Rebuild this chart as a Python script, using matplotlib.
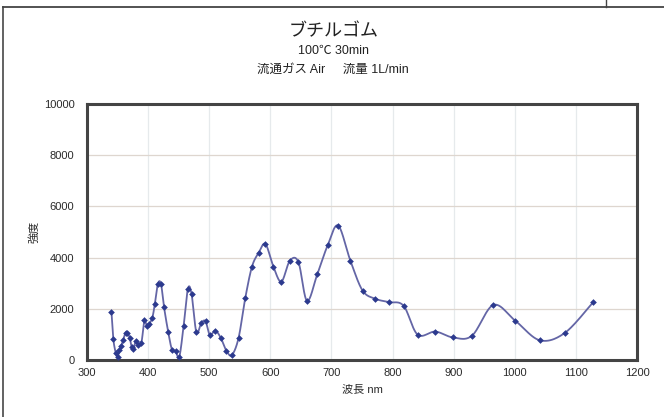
import numpy as np
import matplotlib
matplotlib.use("Agg")
import matplotlib.pyplot as plt
from matplotlib.lines import Line2D

plt.rcParams['font.family'] = ['Liberation Sans', 'Noto Sans CJK JP', 'DejaVu Sans']

# Emission spectrum (wavelength in nm, intensity in counts)
wavelength = [340, 343, 347, 350, 353, 356, 359, 363, 366, 370, 373, 376, 380, 384,
              389, 394, 398, 402, 407, 411, 416, 421, 426, 433, 439, 445, 451, 458,
              465, 471, 479, 487, 494, 501, 510, 519, 528, 537, 548, 559, 570, 581,
              592, 605, 618, 632, 646, 660, 677, 694, 711, 731, 751, 772, 794, 818,
              841, 870, 899, 930, 965, 1001, 1041, 1082, 1128]
intensity = [1880, 830, 280, 120, 380, 540, 770, 1060, 1070, 860, 510, 430, 750, 600,
             670, 1550, 1310, 1410, 1660, 2190, 2970, 2980, 2070, 1080, 410, 340, 120, 1310,
             2770, 2590, 1080, 1450, 1510, 980, 1150, 860, 370, 190, 860, 2420, 3650, 4190,
             4530, 3650, 3060, 3880, 3820, 2310, 3360, 4490, 5250, 3880, 2710, 2390, 2260, 2120,
             990, 1110, 880, 950, 2150, 1530, 770, 1060, 2250]

x_ticks = [300, 400, 500, 600, 700, 800, 900, 1000, 1100, 1200]
y_ticks = [0, 2000, 4000, 6000, 8000, 10000]

title = "ブチルゴム"
subtitle1 = "100℃ 30min"
subtitle2 = "流通ガス Air     流量 1L/min"
xlabel = "波長 nm"
ylabel = "強度"


def smooth_curve(x, y, xspan, yspan, n=24):
    """Bezier smoothing through every point (Catmull-Rom style control points)."""
    px = np.asarray(x, float) / xspan
    py = np.asarray(y, float) / yspan
    pts = np.column_stack([px, py])
    out = []
    m = len(pts)
    t = np.linspace(0, 1, n, endpoint=False)[:, None]
    for i in range(m - 1):
        p0 = pts[i - 1] if i > 0 else pts[i]
        p1 = pts[i]
        p2 = pts[i + 1]
        p3 = pts[i + 2] if i + 2 < m else pts[i + 1]
        c1 = p1 + (p2 - p0) / 6.0
        c2 = p2 - (p3 - p1) / 6.0
        seg = ((1 - t) ** 3) * p1 + 3 * ((1 - t) ** 2) * t * c1 + 3 * (1 - t) * t ** 2 * c2 + t ** 3 * p2
        out.append(seg)
    out.append(pts[-1][None, :])
    curve = np.vstack(out)
    return curve[:, 0] * xspan, curve[:, 1] * yspan


fig = plt.figure(figsize=(6.64, 4.17), dpi=100)
fig.patch.set_facecolor('white')

# outer frame lines of the sheet
fig.add_artist(Line2D([3.5 / 664, 3.5 / 664], [0, 1 - 6.5 / 417], color='#555555', lw=1.3))
fig.add_artist(Line2D([3.5 / 664, 1], [1 - 6.5 / 417, 1 - 6.5 / 417], color='#444444', lw=1.3))
fig.add_artist(Line2D([605.5 / 664, 605.5 / 664], [1 - 6.5 / 417, 1], color='#444444', lw=1.0))

ax = fig.add_axes([87 / 664, 57 / 417, 550 / 664, 256 / 417])

sx, sy = smooth_curve(wavelength, intensity, 900.0, 10000.0 * 550 / 256)
ax.plot(sx, sy, color='#6466a6', lw=1.3, zorder=3)
ax.plot(wavelength, intensity, linestyle='none', marker='D', markersize=3.4,
        color='#2c3a8e', markeredgewidth=0, zorder=4)

ax.set_xlim(300, 1200)
ax.set_ylim(0, 10000)
ax.set_xticks(x_ticks)
ax.set_yticks(y_ticks)
ax.set_xticklabels([str(v) for v in x_ticks], fontsize=8, color='#2a2a2a')
ax.set_yticklabels([str(v) for v in y_ticks], fontsize=8, color='#2a2a2a')
ax.tick_params(axis='x', length=0, pad=6)
ax.tick_params(axis='y', length=0, pad=9)

for v in x_ticks[1:-1]:
    ax.axvline(v, color='#e6eaec', lw=0.9, zorder=1)
for v in y_ticks[1:-1]:
    ax.axhline(v, color='#ded6cf', lw=0.9, zorder=1)

for s in ax.spines.values():
    s.set_color('#444444')
    s.set_linewidth(2.2)

ax.set_xlabel(xlabel, fontsize=8, color='#2a2a2a', labelpad=4)
ax.set_ylabel(ylabel, fontsize=8, color='#2a2a2a', labelpad=3)

fig.text(0.502, 1 - 32 / 417, title, ha='center', va='center', fontsize=13, color='#222222')
fig.text(0.502, 1 - 51 / 417, subtitle1, ha='center', va='center', fontsize=9, color='#222222')
fig.text(0.502, 1 - 70 / 417, subtitle2, ha='center', va='center', fontsize=9, color='#222222')

fig.savefig('out.png', dpi=100, facecolor='white')
